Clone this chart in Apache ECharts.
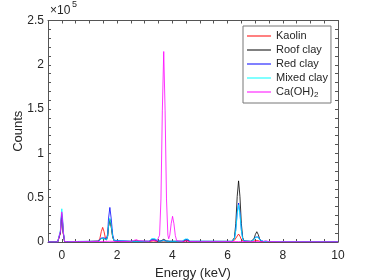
<!DOCTYPE html>
<html><head><meta charset="utf-8">
<script src="https://cdn.jsdelivr.net/npm/echarts@6/dist/echarts.min.js"></script>
<style>html,body{margin:0;padding:0;background:#fff}#c{width:374px;height:280px}</style>
</head><body><div id="c"></div>
<script>
// ---- data (energy keV, counts) ----
const seriesNames = ['Kaolin', 'Roof clay', 'Red clay', 'Mixed clay', 'Ca(OH)2'];
const seriesColors = ['#ff0000', '#000000', '#0000ff', '#00ffff', '#ff00ff'];
const xTickLabels = [0, 2, 4, 6, 8, 10];
const yTickLabels = [0, 50000, 100000, 150000, 200000, 250000];

const kaolin = [[-0.5,0],[-0.15,0],[-0.1,600],[-0.05,10000],[-0.025,21500],[0,28000],[0.025,21500],[0.05,10000],[0.1,600],[0.2,300],[0.6,500],[1.0,600],[1.33,1100],[1.38,4300],[1.43,11800],[1.48,16500],[1.53,11500],[1.58,4300],[1.62,2500],[1.66,6500],[1.69,17500],[1.74,26000],[1.79,17500],[1.84,6000],[1.89,1400],[2.0,700],[2.5,600],[2.6,700],[2.65,1500],[2.7,2000],[2.75,1300],[2.8,600],[3.2,600],[3.26,900],[3.31,1200],[3.36,900],[3.45,600],[3.6,700],[3.69,900],[3.78,600],[4.4,600],[4.46,900],[4.51,1300],[4.56,900],[4.65,500],[6.15,500],[6.2,700],[6.25,2000],[6.3,2800],[6.35,6600],[6.4,9000],[6.45,6600],[6.5,2800],[6.55,900],[6.6,400],[6.9,400],[6.96,800],[7.01,1500],[7.06,2000],[7.11,1500],[7.16,800],[7.22,400],[8.0,300],[10,200]];
const roofClay = [[-0.5,0],[-0.15,0],[-0.1,600],[-0.05,10800],[-0.025,23000],[0,30000],[0.025,23000],[0.05,10800],[0.1,600],[0.2,300],[0.6,500],[1.0,600],[1.33,700],[1.38,1700],[1.43,3900],[1.48,5200],[1.53,3900],[1.58,2200],[1.62,2400],[1.66,6500],[1.69,17000],[1.74,25000],[1.79,17000],[1.84,5800],[1.89,1400],[2.0,700],[2.5,700],[3.16,700],[3.21,1300],[3.26,2200],[3.31,3000],[3.36,2200],[3.41,1300],[3.5,800],[3.59,1300],[3.64,2200],[3.69,3000],[3.74,2200],[3.79,1200],[3.9,700],[4.4,700],[4.46,1800],[4.51,2500],[4.56,1800],[4.65,700],[6.15,700],[6.2,1200],[6.25,4800],[6.3,21000],[6.35,51300],[6.4,69000],[6.45,51300],[6.5,21000],[6.55,4800],[6.6,1200],[6.65,700],[6.85,700],[6.91,1600],[6.96,3800],[7.01,8600],[7.06,11600],[7.11,8600],[7.16,3800],[7.21,1100],[7.3,500],[8.0,400],[10,300]];
const redClay = [[-0.5,0],[-0.15,0],[-0.1,600],[-0.05,11500],[-0.025,24800],[0,32000],[0.025,24800],[0.05,11500],[0.1,600],[0.2,300],[0.6,600],[1.0,700],[1.33,900],[1.38,2000],[1.43,4600],[1.48,6300],[1.53,4700],[1.58,2900],[1.62,3300],[1.66,9500],[1.69,26000],[1.74,39000],[1.79,26000],[1.84,8700],[1.89,1900],[1.95,900],[2.5,800],[3.16,800],[3.21,1600],[3.26,3200],[3.31,4500],[3.36,3200],[3.41,1500],[3.5,900],[3.59,1100],[3.64,1600],[3.69,2000],[3.74,1500],[3.79,1000],[3.9,800],[4.36,800],[4.41,1500],[4.46,2900],[4.51,4000],[4.56,2900],[4.61,1500],[4.66,800],[4.88,800],[4.93,1100],[4.98,800],[6.15,700],[6.2,1100],[6.25,3600],[6.3,13900],[6.35,33000],[6.4,44000],[6.45,33000],[6.5,13900],[6.55,3600],[6.6,1100],[6.65,700],[6.86,700],[6.91,1200],[6.96,2800],[7.01,5600],[7.06,7500],[7.11,5600],[7.16,2800],[7.21,1100],[7.3,600],[8.0,500],[10,300]];
const mixedClay = [[-0.5,0],[-0.15,0],[-0.1,700],[-0.05,13500],[-0.025,29000],[0,37500],[0.025,29000],[0.05,13500],[0.1,700],[0.2,300],[0.6,600],[1.0,700],[1.33,800],[1.38,1700],[1.43,3800],[1.48,5000],[1.53,3800],[1.58,2300],[1.62,2500],[1.66,6900],[1.69,18400],[1.74,27000],[1.79,18400],[1.84,6200],[1.89,1400],[1.95,800],[2.5,800],[3.16,800],[3.21,1900],[3.26,3900],[3.31,5500],[3.36,3900],[3.41,1800],[3.5,900],[3.59,1000],[3.64,1300],[3.69,1500],[3.74,1200],[3.79,900],[3.9,800],[4.36,800],[4.41,1600],[4.46,3300],[4.51,4500],[4.56,3300],[4.61,1600],[4.66,800],[4.88,800],[4.93,1300],[4.98,800],[6.15,700],[6.2,1100],[6.25,3500],[6.3,13300],[6.35,31500],[6.4,42000],[6.45,31500],[6.5,13300],[6.55,3500],[6.6,1100],[6.65,700],[6.86,700],[6.91,1200],[6.96,2700],[7.01,5300],[7.06,7000],[7.11,5300],[7.16,2700],[7.21,1100],[7.3,600],[8.0,500],[10,300]];
const caOH2 = [[-0.5,0],[-0.15,0],[-0.1,600],[-0.05,12200],[-0.025,26300],[0,34000],[0.025,26300],[0.05,12200],[0.1,600],[0.2,300],[0.6,500],[1.0,500],[1.5,600],[1.74,800],[2.0,600],[2.5,600],[2.54,900],[2.59,1600],[2.64,2200],[2.69,2500],[2.74,2200],[2.79,1500],[2.84,800],[3.16,700],[3.21,1100],[3.26,1700],[3.31,2000],[3.36,1600],[3.41,1000],[3.44,900],[3.49,1300],[3.54,7600],[3.59,48600],[3.64,148000],[3.69,215000],[3.74,148000],[3.79,48600],[3.84,7800],[3.87,3600],[3.91,7800],[3.96,20600],[4.01,29000],[4.06,20500],[4.11,7200],[4.16,1400],[4.22,500],[4.41,600],[4.46,1200],[4.51,1500],[4.56,1200],[4.61,600],[5.0,400],[6.4,500],[7.0,400],[7.28,500],[7.33,1100],[7.38,1500],[7.43,1100],[7.48,500],[8,300],[10,200]];
const seriesData = [kaolin, roofClay, redClay, mixedClay, caOH2];

const FONT = 'Liberation Sans';
const TXT = '#262626';
const AX = '#555555';

function xLabel(v) {
  const r = Math.round(v);
  return (Math.abs(v - r) < 1e-9 && xTickLabels.indexOf(r) >= 0) ? String(r) : '';
}
function yLabel(v) {
  return yTickLabels.indexOf(Math.round(v)) >= 0 ? String(Math.round(v) / 1e5) : '';
}

const baseX = {
  type: 'value', min: -0.5, max: 10, interval: 0.5,
  axisLine: { show: true, onZero: false, lineStyle: { color: AX, width: 1 } },
  axisTick: { show: true, inside: true, length: 3, lineStyle: { color: AX } },
  splitLine: { show: false }
};
const baseY = {
  type: 'value', min: 0, max: 250000, interval: 10000,
  axisLine: { show: true, onZero: false, lineStyle: { color: AX, width: 1 } },
  axisTick: { show: true, inside: true, length: 3, lineStyle: { color: AX } },
  splitLine: { show: false }
};

const chart = echarts.init(document.getElementById('c'), null, { renderer: 'canvas' });
chart.setOption({
  animation: false,
  backgroundColor: '#fff',
  grid: { left: 48, right: 36, top: 20.5, bottom: 38, containLabel: false, outerBoundsMode: 'none' },
  xAxis: [
    Object.assign({}, baseX, {
      position: 'bottom',
      name: 'Energy (keV)', nameLocation: 'middle', nameGap: 24.5, nameMoveOverlap: false,
      nameTextStyle: { fontFamily: FONT, fontSize: 13, color: TXT },
      axisLabel: { show: true, margin: 7.5, formatter: xLabel, fontFamily: FONT, fontSize: 12, color: TXT }
    }),
    Object.assign({}, baseX, { position: 'top', axisLabel: { show: false } })
  ],
  yAxis: [
    Object.assign({}, baseY, {
      position: 'left',
      name: 'Counts', nameLocation: 'middle', nameGap: 23, nameMoveOverlap: false,
      nameTextStyle: { fontFamily: FONT, fontSize: 13, color: TXT },
      axisLabel: { show: true, margin: 4, formatter: yLabel, fontFamily: FONT, fontSize: 12, color: TXT }
    }),
    Object.assign({}, baseY, { position: 'right', axisLabel: { show: false } })
  ],
  legend: {
    orient: 'vertical', left: 243, top: 26,
    padding: [4, 3, 4, 4],
    icon: 'rect',
    itemWidth: 24, itemHeight: 1, itemGap: 3,
    borderColor: '#777', borderWidth: 1, backgroundColor: '#fff',
    data: seriesNames,
    formatter: function (n) { return n === 'Ca(OH)2' ? '{m|Ca(OH)}{s|2}' : '{m|' + n + '}'; },
    textStyle: {
      fontFamily: FONT, fontSize: 11, color: TXT,
      rich: {
        m: { fontFamily: FONT, fontSize: 11, color: TXT, lineHeight: 12, verticalAlign: 'top' },
        s: { fontFamily: FONT, fontSize: 8, color: TXT, lineHeight: 8, padding: [5, 0, 0, 0], verticalAlign: 'top' }
      }
    }
  },
  graphic: [
    { type: 'text', left: 50, top: 5, style: { text: '×10', font: '12px "Liberation Sans"', fill: TXT } },
    { type: 'text', left: 72, top: 0, style: { text: '5', font: '9px "Liberation Sans"', fill: TXT } }
  ],
  series: seriesData.map(function (d, i) {
    return {
      type: 'line', name: seriesNames[i], data: d,
      xAxisIndex: 0, yAxisIndex: 0,
      showSymbol: false, symbol: 'none', smooth: false,
      lineStyle: { color: seriesColors[i], width: 0.8 },
      itemStyle: { color: seriesColors[i] },
      emphasis: { disabled: true }
    };
  })
});
</script></body></html>
